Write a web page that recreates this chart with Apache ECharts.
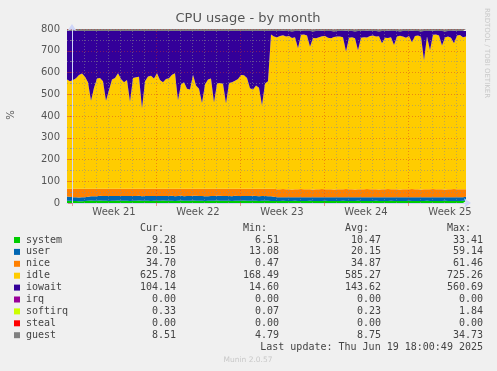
<!DOCTYPE html>
<html><head><meta charset="utf-8">
<script src="https://cdn.jsdelivr.net/npm/echarts@6/dist/echarts.min.js"></script>
<style>html,body{margin:0;padding:0;background:#f0f0f0}#c{width:497px;height:371px}</style>
</head><body><div id="c"></div>
<script>
// ---------- DATA ----------
const seriesNames = ['system','user','nice','idle','iowait','irq','softirq','steal','guest'];
// samples every 6 hours, first sample 10 hours before the first Monday (week 21 start)
const sampleStartDay = -10/24;
const sampleStepDay = 0.25;

const system = [
 10,10,9,9,8,8,9,10,11,10,
 10,11,10,10,9,10,10,11,10,10,
 10,9,10,10,11,10,10,10,9,10,
 10,10,11,10,10,10,9,10,12,10,
 10,10,11,10,10,10,9,10,10,10,
 11,10,10,10,10,9,10,10,10,11,
 10,10,10,10,9,10,10,10,9,9,
 9,9,10,9,9,9,10,9,9,9,
 9,10,9,9,9,9,10,9,9,9,
 9,9,10,9,9,9,9,10,9,9,
 9,9,9,10,9,9,9,9,10,9,
 9,9,9,9,10,9,9,9,9,9,
 10,9,9,9,9,9,10,9,9,9,
 9,9,10,9];
const user = [
 20,19,18,17,17,18,18,19,20,21,
 21,22,22,22,23,22,22,21,22,22,
 22,23,22,22,22,21,22,22,23,22,
 22,22,21,22,22,23,22,22,22,21,
 22,22,22,23,22,22,22,21,22,22,
 22,23,22,22,22,22,23,22,22,21,
 22,22,23,22,22,22,22,21,22,20,
 17,17,16,17,17,17,16,17,17,17,
 17,16,17,17,17,17,16,17,17,17,
 17,17,16,17,17,17,17,16,17,17,
 17,17,17,16,17,17,17,17,16,17,
 17,17,17,17,16,17,17,17,17,17,
 16,17,17,17,17,17,16,17,17,17,
 17,17,16,20];
const nice = [
 35,36,38,39,40,39,38,36,34,34,
 34,32,33,33,33,33,33,33,33,33,
 33,33,33,33,32,34,33,33,33,33,
 33,33,33,33,33,32,34,33,31,34,
 33,33,32,32,33,33,34,34,33,33,
 32,32,33,33,33,34,32,33,33,33,
 33,33,32,33,34,33,33,34,34,36,
 37,37,38,37,37,36,37,37,38,37,
 37,37,36,37,37,38,37,37,37,36,
 37,37,37,38,37,37,36,37,37,37,
 38,37,37,37,36,37,37,38,37,37,
 37,36,37,37,37,38,37,37,36,37,
 37,37,38,37,37,37,36,37,37,38,
 37,37,37,34];
const idle = [
 503,495,500,508,523,530,515,490,405,465,
 507,510,495,405,455,503,510,531,505,490,
 500,400,510,513,515,371,495,517,520,507,
 531,500,490,505,508,525,531,407,480,490,
 460,457,525,475,460,395,480,503,507,397,
 485,487,483,393,487,490,497,505,523,522,
 510,463,457,475,465,385,485,495,710,700,
 699,705,707,702,705,697,699,649,709,712,
 707,655,697,695,699,703,705,697,695,701,
 703,702,699,632,697,699,695,639,697,699,
 697,705,707,703,705,672,697,695,699,663,
 703,707,702,697,705,675,705,707,702,593,
 703,639,709,712,707,661,699,702,697,670,
 707,709,699,702];
const iowait = [
 223,231,226,218,203,196,211,236,321,261,
 219,216,231,321,271,223,216,195,221,236,
 226,326,216,213,211,355,231,209,206,219,
 195,226,236,221,218,201,195,319,246,236,
 266,269,201,251,266,331,246,223,219,329,
 241,239,243,333,239,236,229,221,203,204,
 216,263,269,251,261,341,241,231,16,26,
 29,23,21,26,23,31,29,79,19,16,
 21,73,31,33,29,25,23,31,33,27,
 25,26,29,96,31,29,33,89,31,29,
 31,23,21,25,23,56,31,33,29,65,
 25,21,26,31,23,53,23,21,26,135,
 25,89,19,16,21,67,29,26,31,58,
 21,19,29,26];
const irq = new Array(134).fill(0);
const softirq = new Array(134).fill(0.25);
const steal = new Array(134).fill(0);
const guest = [
 8.5,8.6,8.4,8.5,8.7,8.5,8.4,8.6,8.5,8.5,
 8.6,8.5,8.4,8.5,8.6,8.5,8.5,8.7,8.5,8.4,
 8.5,8.6,8.5,8.5,8.4,8.6,8.5,8.5,8.6,8.5,
 8.4,8.5,8.6,8.5,8.5,8.7,8.5,8.4,8.5,8.6,
 8.5,8.5,8.4,8.6,8.5,8.5,8.6,8.5,8.4,8.5,
 8.6,8.5,8.5,8.7,8.5,8.4,8.5,8.6,8.5,8.5,
 8.4,8.6,8.5,8.5,8.6,8.5,8.4,8.5,8.6,8.5,
 8.5,8.7,8.5,8.4,8.5,8.6,8.5,8.5,8.4,8.6,
 8.5,8.5,8.6,8.5,8.4,8.5,8.6,8.5,8.5,8.7,
 8.5,8.4,8.5,8.6,8.5,8.5,8.4,8.6,8.5,8.5,
 8.6,8.5,8.4,8.5,8.6,8.5,8.5,8.7,8.5,8.4,
 8.5,8.6,8.5,8.5,8.4,8.6,8.5,8.5,8.6,8.5,
 8.4,8.5,8.6,8.5,8.5,8.7,8.5,8.4,8.5,8.6,
 8.5,8.5,8.4,8.5];

const weekLabels = ['Week 21','Week 22','Week 23','Week 24','Week 25'];
const weekLabelDays = [3.5,10.5,17.5,24.5,31.5];
const weekStartDays = [0,7,14,21,28];
const yMin = 0, yMax = 800, yStep = 100;

const curVals = ['9.28','20.15','34.70','625.78','104.14','0.00','0.33','0.00','8.51'];
const minVals = ['6.51','13.08','0.47','168.49','14.60','0.00','0.07','0.00','4.79'];
const avgVals = ['10.47','20.15','34.87','585.27','143.62','0.00','0.23','0.00','8.75'];
const maxVals = ['33.41','59.14','61.46','725.26','560.69','0.00','1.84','0.00','34.73'];
const lastUpdate = 'Last update: Thu Jun 19 18:00:49 2025';
const footer = 'Munin 2.0.57';
const titleText = 'CPU usage - by month';
const vlabel = '%';
const watermark = 'RRDTOOL / TOBI OETIKER';

// ---------- STYLE ----------
const colors = ['#00cc00','#0066b3','#ff8000','#ffcc00','#330099','#990099','#ccff00','#ff0000','#808080'];
const allValues = [system,user,nice,idle,iowait,irq,softirq,steal,guest];
const N = idle.length;
const sampleDays = [];
for (let i = 0; i < N; i++) sampleDays.push(sampleStartDay + i * sampleStepDay);
const xMin = sampleDays[0], xMax = sampleDays[N - 1];

const dayLines = [];
for (let d = Math.ceil(xMin); d <= xMax; d++) dayLines.push(d);

const gridL = 67, gridT = 29, gridW = 399, gridH = 174;
const minorGrid = 'rgba(140,140,140,0.55)';
const majorGrid = 'rgba(210,50,40,0.45)';
const axisCol = '#cfd6f8';

// value first so that the stack is applied to the y value
const series = allValues.map((vals, k) => ({
  name: seriesNames[k], type: 'line', stack: 'cpu', symbol: 'none', silent: true,
  lineStyle: { width: 0 }, itemStyle: { color: colors[k] },
  areaStyle: { color: colors[k], opacity: 1 },
  encode: { x: 1, y: 0 },
  data: vals.map((v, i) => [v, sampleDays[i]]),
  animation: false
}));
// vertical grid lines
series.push({
  type: 'line', data: [], silent: true, animation: false,
  markLine: {
    silent: true, symbol: 'none', animation: false, label: { show: false }, z: 5,
    data: dayLines.map(d => ({
      xAxis: d,
      lineStyle: { color: weekStartDays.includes(d) ? majorGrid : minorGrid, width: 1, type: [1, 2] }
    }))
  }
});

const mono = '"DejaVu Sans Mono", monospace';
const textCol = '#444';
const graphics = [];
graphics.push({ type: 'text', x: 248, y: 19, style: { text: titleText, fill: '#555', font: '13px "DejaVu Sans"', textAlign: 'center', verticalAlign: 'middle' } });
graphics.push({ type: 'text', x: 487, y: 53, rotation: -Math.PI / 2, style: { text: watermark, fill: '#c8c8c8', font: '7px "DejaVu Sans"', textAlign: 'center', verticalAlign: 'middle' } });
graphics.push({ type: 'text', x: 11, y: 115, rotation: Math.PI / 2, style: { text: vlabel, fill: '#555', font: '10px "DejaVu Sans"', textAlign: 'center', verticalAlign: 'middle' } });
const colRight = [176, 279, 381, 483];
const headRight = [164, 267, 369, 471];
['Cur:', 'Min:', 'Avg:', 'Max:'].forEach((h, c) => {
  graphics.push({ type: 'text', x: headRight[c], y: 228, style: { text: h, fill: textCol, font: '10px ' + mono, textAlign: 'right', verticalAlign: 'middle' } });
});
const cols = [curVals, minVals, avgVals, maxVals];
seriesNames.forEach((n, r) => {
  const y = 240 + r * 11.9;
  graphics.push({ type: 'rect', shape: { x: 14, y: y - 3, width: 6, height: 6 }, style: { fill: colors[r] } });
  graphics.push({ type: 'text', x: 26, y: y, style: { text: n, fill: textCol, font: '10px ' + mono, textAlign: 'left', verticalAlign: 'middle' } });
  cols.forEach((arr, c) => {
    graphics.push({ type: 'text', x: colRight[c], y: y, style: { text: arr[r], fill: textCol, font: '10px ' + mono, textAlign: 'right', verticalAlign: 'middle' } });
  });
});
graphics.push({ type: 'text', x: 483, y: 347.5, style: { text: lastUpdate, fill: textCol, font: '10px ' + mono, textAlign: 'right', verticalAlign: 'middle' } });
graphics.push({ type: 'text', x: 248, y: 360, style: { text: footer, fill: '#c8c8c8', font: '7.5px "DejaVu Sans"', textAlign: 'center', verticalAlign: 'middle' } });

const chart = echarts.init(document.getElementById('c'), null, { renderer: 'canvas' });
chart.setOption({
  backgroundColor: '#f0f0f0',
  animation: false,
  grid: { left: gridL, top: gridT, width: gridW, height: gridH },
  xAxis: {
    type: 'value', min: xMin, max: xMax, z: 6,
    splitLine: { show: false },
    axisLine: { show: true, lineStyle: { color: axisCol, width: 1 }, symbol: ['none', 'arrow'], symbolSize: [7, 7], symbolOffset: [0, 5] },
    axisTick: { show: true, customValues: weekStartDays, length: 3, lineStyle: { color: majorGrid } },
    axisLabel: {
      customValues: weekLabelDays, color: '#555', fontSize: 10, fontFamily: 'DejaVu Sans', margin: 4,
      formatter: v => { const k = weekLabelDays.indexOf(v); return k >= 0 ? weekLabels[k] : ''; }
    }
  },
  yAxis: {
    type: 'value', min: yMin, max: yMax, interval: yStep, z: 6,
    axisLine: { show: true, lineStyle: { color: axisCol, width: 1 }, symbol: ['none', 'arrow'], symbolSize: [7, 7], symbolOffset: [0, 5] },
    axisTick: { show: true, length: 4, lineStyle: { color: majorGrid } },
    minorTick: { show: true, splitNumber: 2, length: 2, lineStyle: { color: minorGrid } },
    axisLabel: { color: '#555', fontSize: 10, fontFamily: 'DejaVu Sans', margin: 7 },
    splitLine: { show: true, lineStyle: { color: majorGrid, type: [1, 2], width: 1 } },
    minorSplitLine: { show: true, lineStyle: { color: minorGrid, type: [1, 2], width: 1 } }
  },
  series: series,
  graphic: graphics
});
</script></body></html>
